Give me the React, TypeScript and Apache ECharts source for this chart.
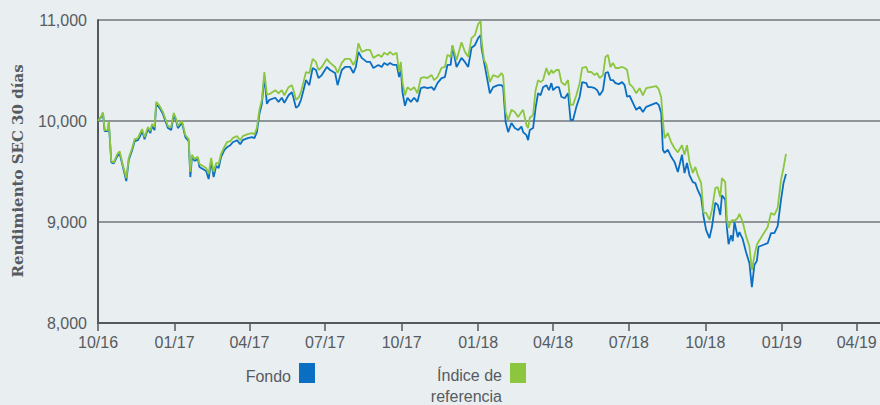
import React, { useEffect, useRef } from 'react';
import * as echarts from 'echarts';

const dates = [
  '2016-10-01','2016-10-05','2016-10-07','2016-10-09','2016-10-13','2016-10-14','2016-10-17','2016-10-20','2016-10-24','2016-10-27',
  '2016-10-31','2016-11-04','2016-11-07','2016-11-11','2016-11-14','2016-11-18','2016-11-20','2016-11-23','2016-11-26','2016-11-30',
  '2016-12-03','2016-12-05','2016-12-08','2016-12-10','2016-12-14','2016-12-18','2016-12-24','2016-12-28','2016-12-31','2017-01-03',
  '2017-01-05','2017-01-10','2017-01-14','2017-01-18','2017-01-20','2017-01-22','2017-01-25','2017-01-29','2017-01-31','2017-02-04',
  '2017-02-08','2017-02-11','2017-02-14','2017-02-17','2017-02-20','2017-02-23','2017-02-26','2017-03-02','2017-03-05','2017-03-09',
  '2017-03-12','2017-03-17','2017-03-21','2017-03-24','2017-03-30','2017-04-04','2017-04-07','2017-04-10','2017-04-13','2017-04-16',
  '2017-04-19','2017-04-22','2017-04-25','2017-05-02','2017-05-06','2017-05-10','2017-05-13','2017-05-18','2017-05-22','2017-05-24',
  '2017-05-27','2017-05-30','2017-06-02','2017-06-05','2017-06-08','2017-06-12','2017-06-16','2017-06-20','2017-06-23','2017-06-27',
  '2017-07-03','2017-07-07','2017-07-13','2017-07-16','2017-07-21','2017-07-25','2017-07-31','2017-08-04','2017-08-07','2017-08-10',
  '2017-08-14','2017-08-20','2017-08-24','2017-08-28','2017-09-03','2017-09-07','2017-09-10','2017-09-14','2017-09-17','2017-09-21',
  '2017-09-25','2017-09-28','2017-09-30','2017-10-02','2017-10-05','2017-10-08','2017-10-12','2017-10-16','2017-10-20','2017-10-24',
  '2017-10-28','2017-11-01','2017-11-06','2017-11-09','2017-11-13','2017-11-18','2017-11-22','2017-11-25','2017-11-29','2017-12-01',
  '2017-12-06','2017-12-12','2017-12-16','2017-12-20','2017-12-24','2017-12-28','2018-01-01','2018-01-04','2018-01-05','2018-01-08',
  '2018-01-11','2018-01-15','2018-01-19','2018-01-25','2018-01-29','2018-01-31','2018-02-03','2018-02-06','2018-02-10','2018-02-14',
  '2018-02-18','2018-02-22','2018-02-24','2018-02-28','2018-03-02','2018-03-04','2018-03-08','2018-03-11','2018-03-14','2018-03-17',
  '2018-03-20','2018-03-24','2018-03-27','2018-03-30','2018-04-01','2018-04-05','2018-04-08','2018-04-11','2018-04-15','2018-04-19',
  '2018-04-22','2018-04-25','2018-04-29','2018-05-03','2018-05-06','2018-05-11','2018-05-13','2018-05-17','2018-05-21','2018-05-24',
  '2018-05-27','2018-05-31','2018-06-03','2018-06-06','2018-06-09','2018-06-12','2018-06-15','2018-06-19','2018-06-23','2018-06-26',
  '2018-06-29','2018-07-02','2018-07-06','2018-07-10','2018-07-14','2018-07-18','2018-07-22','2018-07-28','2018-08-03','2018-08-06',
  '2018-08-09','2018-08-11','2018-08-13','2018-08-17','2018-08-21','2018-08-25','2018-08-29','2018-09-03','2018-09-06','2018-09-09',
  '2018-09-12','2018-09-16','2018-09-19','2018-09-22','2018-09-26','2018-09-29','2018-10-02','2018-10-06','2018-10-09','2018-10-13',
  '2018-10-16','2018-10-19','2018-10-21','2018-10-25','2018-10-27','2018-10-29','2018-11-01','2018-11-03','2018-11-05','2018-11-09',
  '2018-11-11','2018-11-15','2018-11-19','2018-11-23','2018-11-26','2018-11-29','2018-12-02','2018-12-04','2018-12-15','2018-12-19',
  '2018-12-23','2018-12-27','2018-12-31','2019-01-03','2019-01-06',
];

const indice = [
  10000,10050,10085,9910,9910,9995,9600,9590,9670,9700,
  9560,9435,9635,9730,9820,9830,9870,9920,9840,9940,
  9900,9970,9940,10190,10150,10090,9950,9940,10080,10020,
  9950,10000,9860,9820,9495,9665,9625,9645,9575,9555,
  9535,9475,9635,9495,9585,9575,9675,9745,9790,9800,
  9830,9850,9810,9850,9870,9880,9870,9930,10110,10210,
  10485,10260,10265,10305,10275,10305,10255,10335,10355,10305,
  10210,10230,10285,10385,10485,10475,10615,10585,10505,10535,
  10615,10575,10535,10475,10575,10615,10615,10555,10605,10770,
  10685,10705,10705,10625,10655,10635,10675,10655,10685,10655,
  10675,10485,10585,10385,10255,10335,10305,10335,10275,10425,
  10435,10425,10455,10405,10435,10525,10535,10655,10635,10750,
  10605,10780,10685,10635,10820,10850,10960,10990,10800,10605,
  10555,10385,10455,10435,10475,10445,10090,10010,10110,10090,
  10040,10090,10110,9960,9930,10030,10060,10305,10405,10385,
  10405,10525,10455,10505,10475,10505,10505,10385,10355,10405,
  10160,10160,10255,10375,10525,10535,10485,10485,10455,10475,
  10425,10455,10635,10655,10535,10575,10525,10525,10535,10525,
  10505,10365,10335,10275,10325,10255,10325,10335,10345,10315,
  10235,10010,9830,9880,9790,9730,9690,9760,9665,9760,
  9595,9485,9545,9465,9385,9090,9090,9020,9120,9335,
  9345,9245,9435,9395,9020,8940,9010,9020,9010,9040,
  9080,9000,8860,8760,8525,8665,8775,8805,8950,9090,
  9070,9140,9415,9535,9675,
];

const fondo = [
  10000,10040,10075,9900,9900,9985,9590,9580,9650,9680,
  9545,9405,9615,9710,9800,9810,9840,9900,9820,9920,
  9880,9950,9910,10170,10130,10070,9930,9910,10060,10000,
  9930,9980,9840,9800,9445,9645,9605,9625,9545,9525,
  9505,9425,9605,9445,9555,9535,9645,9715,9740,9760,
  9790,9810,9770,9810,9830,9840,9830,9890,10070,10170,
  10445,10170,10210,10230,10190,10230,10180,10255,10285,10230,
  10130,10150,10210,10305,10405,10355,10525,10505,10425,10455,
  10535,10505,10475,10355,10505,10535,10535,10475,10535,10685,
  10625,10585,10585,10525,10555,10535,10575,10555,10575,10555,
  10555,10435,10525,10285,10150,10230,10190,10230,10190,10325,
  10335,10325,10335,10305,10375,10425,10435,10555,10555,10740,
  10535,10625,10585,10535,10725,10750,10820,10850,10725,10585,
  10455,10275,10335,10355,10355,10335,9990,9890,9980,9930,
  9910,9945,9890,9860,9810,9910,9930,10130,10275,10255,
  10335,10355,10305,10375,10305,10335,10335,10240,10225,10275,
  10010,10010,10140,10240,10385,10375,10335,10335,10325,10305,
  10255,10305,10475,10485,10405,10405,10375,10365,10385,10355,
  10240,10250,10180,10110,10140,10090,10140,10160,10180,10160,
  10080,9715,9685,9715,9645,9595,9495,9665,9485,9585,
  9465,9395,9385,9315,9245,9050,8920,8840,8950,9190,
  9170,9070,9265,9220,8940,8780,8870,8810,9000,8850,
  8900,8830,8700,8595,8355,8575,8615,8755,8790,8890,
  8890,8960,9220,9385,9475,
];

const xTickDates = ['2016-10-01','2017-01-01','2017-04-01','2017-07-01','2017-10-01','2018-01-01','2018-04-01','2018-07-01','2018-10-01','2019-01-01','2019-04-01'];
const xTickLabels = ['10/16','01/17','04/17','07/17','10/17','01/18','04/18','07/18','10/18','01/19','04/19'];
const xRange = ['2016-10-01', '2019-04-29'];
const yTickValues = [8000, 9000, 10000, 11000];
const yTickLabels = ['8,000', '9,000', '10,000', '11,000'];
const seriesNames = ['Fondo', 'Índice de\nreferencia'];
const yAxisTitle = 'Rendimiento SEC 30 días';

const BLUE = '#0a6fc2';
const GREEN = '#8cc63f';
const TEXT = '#565b60';
const AXIS = '#55595d';
const GRIDC = '#8f9498';
const BG = '#e9eef1';
const SANS = '"Liberation Sans", Arial, Helvetica, sans-serif';

const ts = (s: string) => {
  const [y, m, d] = s.split('-').map(Number);
  return Date.UTC(y, m - 1, d);
};

export default function App() {
  const ref = useRef<HTMLDivElement>(null);
  useEffect(() => {
    document.body.style.margin = '0';
    if (!ref.current) return;
    const chart = echarts.init(ref.current, undefined, { renderer: 'svg' });
    const xTicks = xTickDates.map(ts);
    const option: any = {
      animation: false,
      backgroundColor: BG,
      grid: { left: 98, top: 20, right: 0, bottom: 82, containLabel: false },
      xAxis: {
        type: 'value',
        min: ts(xRange[0]),
        max: ts(xRange[1]),
        axisLine: { show: true, lineStyle: { color: AXIS, width: 2 } },
        axisTick: { show: true, customValues: xTicks, length: 8, lineStyle: { color: AXIS, width: 1.5 } },
        axisLabel: {
          customValues: xTicks,
          margin: 11,
          color: TEXT,
          fontSize: 16,
          fontFamily: SANS,
          formatter: (v: number) => {
            const i = xTicks.indexOf(v);
            return i >= 0 ? xTickLabels[i] : '';
          },
        },
        splitLine: { show: false },
      },
      yAxis: {
        type: 'value',
        min: 8000,
        max: 11000,
        interval: 1000,
        axisLine: { show: true, lineStyle: { color: AXIS, width: 2 } },
        axisTick: { show: false },
        axisLabel: {
          margin: 11,
          color: TEXT,
          fontSize: 16,
          fontFamily: SANS,
          formatter: (v: number) => {
            const i = yTickValues.indexOf(v);
            return i >= 0 ? yTickLabels[i] : '';
          },
        },
        splitLine: { show: true, lineStyle: { color: GRIDC, width: 2 } },
      },
      series: [
        {
          name: seriesNames[0],
          type: 'line',
          data: dates.map((d, i) => [ts(d), fondo[i]]),
          showSymbol: false,
          symbol: 'none',
          lineStyle: { color: BLUE, width: 1.8 },
          itemStyle: { color: BLUE },
        },
        {
          name: seriesNames[1],
          type: 'line',
          data: dates.map((d, i) => [ts(d), indice[i]]),
          showSymbol: false,
          symbol: 'none',
          lineStyle: { color: GREEN, width: 1.8 },
          itemStyle: { color: GREEN },
        },
      ],
      graphic: [
        {
          type: 'text',
          x: 18,
          y: 171,
          rotation: Math.PI / 2,
          style: {
            text: yAxisTitle,
            fill: TEXT,
            font: 'bold 15px "DejaVu Serif", serif',
            textAlign: 'center',
            textVerticalAlign: 'middle',
          },
        },
        {
          type: 'text',
          x: 291,
          y: 376,
          style: { text: seriesNames[0], fill: TEXT, font: `16px ${SANS}`, textAlign: 'right', textVerticalAlign: 'middle' },
        },
        { type: 'rect', shape: { x: 299, y: 363, width: 16, height: 20 }, style: { fill: BLUE } },
        {
          type: 'text',
          x: 502,
          y: 365,
          style: { text: seriesNames[1], fill: TEXT, font: `16px ${SANS}`, textAlign: 'right', textVerticalAlign: 'top', lineHeight: 21 },
        },
        { type: 'rect', shape: { x: 510, y: 363, width: 16, height: 20 }, style: { fill: GREEN } },
      ],
    };
    chart.setOption(option);
    return () => chart.dispose();
  }, []);
  return <div ref={ref} style={{ width: 880, height: 405 }} />;
}
